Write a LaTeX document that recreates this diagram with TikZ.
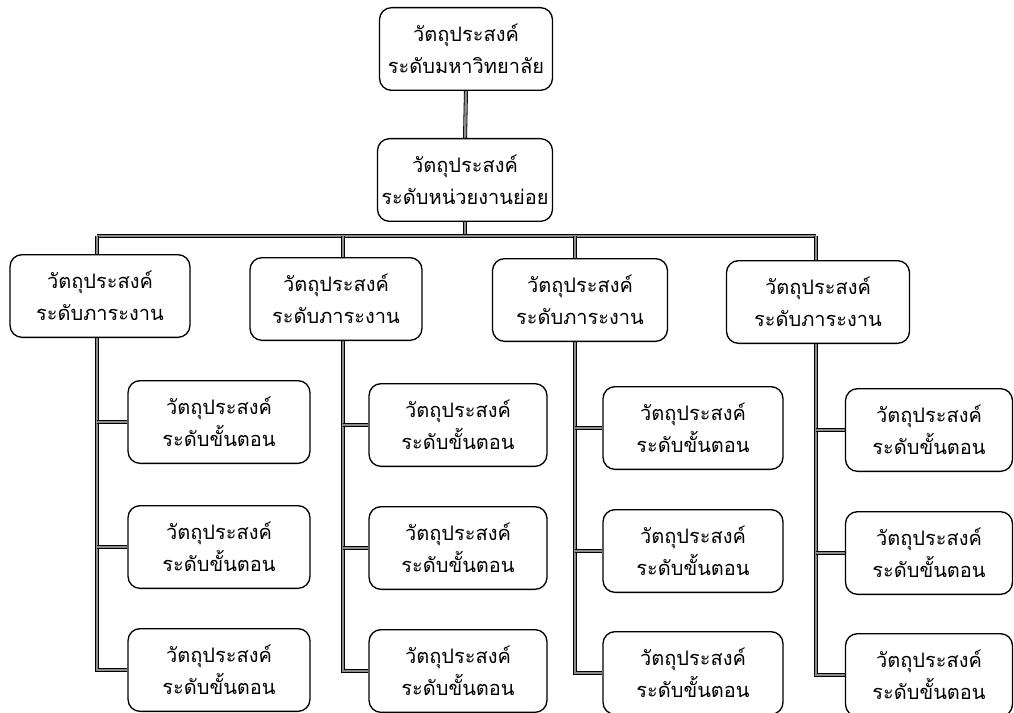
\documentclass[tikz,border=0pt]{standalone}
\usepackage{fontspec}
\newfontfamily\thaifont[Script=Thai]{Loma}
\usetikzlibrary{backgrounds}
\begin{document}
\begin{tikzpicture}[x=0.75pt,y=-0.75pt,
  obox/.style={draw=black, line width=1pt, rounded corners=9pt, fill=white,
    minimum width=#1*0.75pt, minimum height=62pt, align=center, inner sep=0pt,
    font=\thaifont\fontsize{15}{24}\selectfont},
  obox/.default=178,
  conn/.style={draw=black, line width=0.6pt, double=black!45, double distance=1.8pt}]
\useasboundingbox (0,0) rectangle (1014,713);
% top levels
\node[obox=173] (uni) at (466,49) {วัตถุประสงค์\\ระดับมหาวิทยาลัย};
\node[obox=175] (sub) at (465,180) {วัตถุประสงค์\\ระดับหน่วยงานย่อย};
% task level
\node[obox=180] (t1) at (100,296) {วัตถุประสงค์\\ระดับภาระงาน};
\node[obox=172] (t2) at (336,299) {วัตถุประสงค์\\ระดับภาระงาน};
\node[obox=175] (t3) at (580,300) {วัตถุประสงค์\\ระดับภาระงาน};
\node[obox=183] (t4) at (818,302) {วัตถุประสงค์\\ระดับภาระงาน};
% step level
\node[obox=182] (s11) at (219,422) {วัตถุประสงค์\\ระดับขั้นตอน};
\node[obox=182] (s12) at (219,547) {วัตถุประสงค์\\ระดับขั้นตอน};
\node[obox=182] (s13) at (219,670) {วัตถุประสงค์\\ระดับขั้นตอน};
\node[obox=178] (s21) at (458,425) {วัตถุประสงค์\\ระดับขั้นตอน};
\node[obox=178] (s22) at (458,548) {วัตถุประสงค์\\ระดับขั้นตอน};
\node[obox=178] (s23) at (458,671) {วัตถุประสงค์\\ระดับขั้นตอน};
\node[obox=180] (s31) at (693,428) {วัตถุประสงค์\\ระดับขั้นตอน};
\node[obox=180] (s32) at (693,551) {วัตถุประสงค์\\ระดับขั้นตอน};
\node[obox=180] (s33) at (693,673) {วัตถุประสงค์\\ระดับขั้นตอน};
\node[obox=167] (s41) at (929,430) {วัตถุประสงค์\\ระดับขั้นตอน};
\node[obox=167] (s42) at (929,553) {วัตถุประสงค์\\ระดับขั้นตอน};
\node[obox=167] (s43) at (929,675) {วัตถุประสงค์\\ระดับขั้นตอน};
% bar coordinates
\coordinate (b1) at (97,236);
\coordinate (b2) at (343,236);
\coordinate (b3) at (575,236);
\coordinate (b4) at (816,236);
\begin{scope}[on background layer]
\draw[conn] (uni.south) -- (sub.north);
\draw[conn] (sub.south) -- (sub.south |- b1);
\draw[conn] (b1) -- (b4);
\foreach \c in {1,2,3,4}{
  \draw[conn] (b\c) |- (s\c3.west);
  \draw[conn] (b\c |- s\c1.west) -- (s\c1.west);
  \draw[conn] (b\c |- s\c2.west) -- (s\c2.west);
}
\end{scope}
\end{tikzpicture}
\end{document}
